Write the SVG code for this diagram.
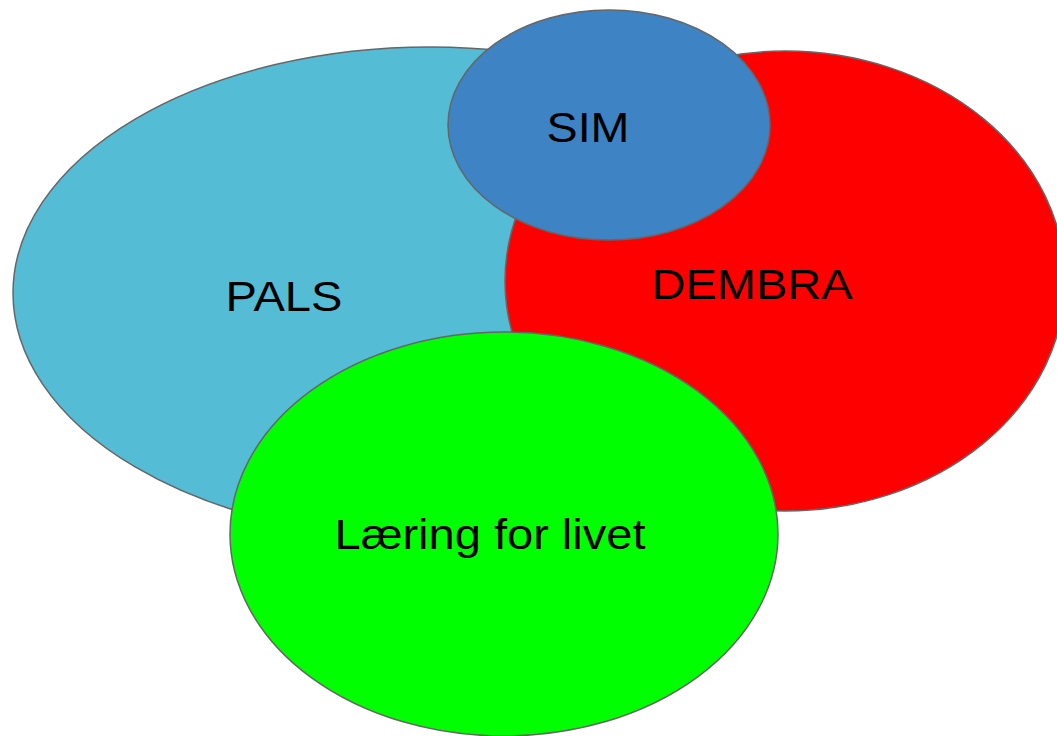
<svg xmlns="http://www.w3.org/2000/svg" width="1057" height="736" viewBox="0 0 1057 736">
<style>
.n{stroke:#666666;stroke-width:1.5}
.t{font-family:"Liberation Sans",Arial,sans-serif;font-size:43px;fill:#000;text-anchor:middle}
</style>
<rect width="1057" height="736" fill="#ffffff"/>
<g id="pals"><ellipse class="n" cx="430" cy="293" rx="417" ry="246" fill="#55BCD6"/><text class="t" x="284" y="311" textLength="117" lengthAdjust="spacingAndGlyphs">PALS</text></g>
<g id="dembra"><ellipse class="n" cx="785" cy="281" rx="280" ry="230" fill="#FF0000"/><text class="t" x="752" y="299" textLength="201" lengthAdjust="spacingAndGlyphs">DEMBRA</text></g>
<g id="sim"><ellipse class="n" cx="609" cy="125" rx="161" ry="115" fill="#3E83C4"/><text class="t" x="588" y="142" textLength="83" lengthAdjust="spacingAndGlyphs">SIM</text></g>
<g id="laering"><ellipse class="n" cx="504" cy="534" rx="274" ry="202" fill="#00FF00"/><text class="t" x="490" y="549" textLength="311" lengthAdjust="spacingAndGlyphs">Læring for livet</text></g>
<g id="connectors"/>
</svg>
